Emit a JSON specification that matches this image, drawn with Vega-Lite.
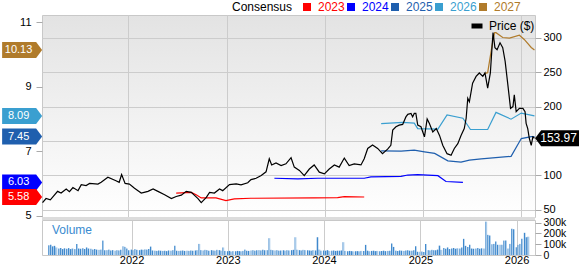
{
  "$schema": "https://vega.github.io/schema/vega-lite/v6.json",
  "padding": {"left": 1, "top": 0, "right": 0, "bottom": 0},
  "spacing": 0,
  "bounds": "flush",
  "config": {
    "font": "Liberation Sans",
    "axis": {"labelFont": "Liberation Sans", "labelFontSize": 11, "labelColor": "#000000", "tickColor": "#aaaaaa", "gridColor": "#cccccc", "domain": false},
    "legend": {"labelFont": "Liberation Sans", "titleFont": "Liberation Sans", "padding": 0}
  },
  "datasets": {
    "price": [
      {"d":"2021-02-16","p":60},{"d":"2021-03-01","p":66},{"d":"2021-03-17","p":64},{"d":"2021-04-13","p":76.5},{"d":"2021-04-26","p":74},
      {"d":"2021-05-15","p":80},{"d":"2021-05-27","p":76},{"d":"2021-06-09","p":82},{"d":"2021-06-28","p":77.5},{"d":"2021-07-10","p":86.3},
      {"d":"2021-07-28","p":85},{"d":"2021-08-10","p":88},{"d":"2021-09-10","p":87},{"d":"2021-09-22","p":89.7},{"d":"2021-10-17","p":97},
      {"d":"2021-11-16","p":92},{"d":"2021-11-28","p":89.7},{"d":"2021-12-07","p":101},{"d":"2021-12-20","p":88},{"d":"2022-01-05","p":87},
      {"d":"2022-01-24","p":81},{"d":"2022-02-06","p":77.5},{"d":"2022-02-18","p":74},{"d":"2022-03-15","p":76.5},{"d":"2022-04-03","p":80},
      {"d":"2022-04-21","p":76.5},{"d":"2022-05-16","p":71.6},{"d":"2022-06-10","p":66},{"d":"2022-06-28","p":69},{"d":"2022-07-17","p":71},
      {"d":"2022-08-04","p":76.5},{"d":"2022-08-23","p":75},{"d":"2022-09-17","p":66},{"d":"2022-09-29","p":60},{"d":"2022-10-18","p":67.6},
      {"d":"2022-10-30","p":75},{"d":"2022-11-17","p":74},{"d":"2022-12-06","p":80},{"d":"2022-12-18","p":77.5},{"d":"2023-01-12","p":86.3},
      {"d":"2023-02-06","p":87.3},{"d":"2023-02-24","p":86},{"d":"2023-03-21","p":89},{"d":"2023-04-02","p":93.6},{"d":"2023-04-21","p":95.6},
      {"d":"2023-05-10","p":99.5},{"d":"2023-05-28","p":105},{"d":"2023-06-09","p":124},{"d":"2023-06-18","p":115},{"d":"2023-07-04","p":118},
      {"d":"2023-07-23","p":114},{"d":"2023-08-10","p":116.6},{"d":"2023-08-29","p":125.5},{"d":"2023-09-10","p":111.8},{"d":"2023-09-29","p":107},
      {"d":"2023-10-17","p":99.5},{"d":"2023-11-05","p":109},{"d":"2023-11-23","p":115},{"d":"2023-12-12","p":104.4},{"d":"2023-12-31","p":102},
      {"d":"2024-01-18","p":109},{"d":"2024-02-06","p":115},{"d":"2024-02-24","p":111.8},{"d":"2024-03-14","p":125},{"d":"2024-04-01","p":114},
      {"d":"2024-04-20","p":116.6},{"d":"2024-05-15","p":115},{"d":"2024-05-27","p":124},{"d":"2024-06-09","p":139},{"d":"2024-06-27","p":144},
      {"d":"2024-07-16","p":139},{"d":"2024-08-03","p":131.4},{"d":"2024-08-22","p":138},{"d":"2024-09-03","p":143.6},{"d":"2024-09-10","p":165.7},
      {"d":"2024-09-22","p":170.6},{"d":"2024-10-04","p":173},{"d":"2024-10-17","p":174},{"d":"2024-10-29","p":185},{"d":"2024-11-05","p":188.7},
      {"d":"2024-11-17","p":190},{"d":"2024-11-23","p":185},{"d":"2024-11-29","p":190},{"d":"2024-12-05","p":190},{"d":"2024-12-12","p":173},
      {"d":"2024-12-24","p":170.6},{"d":"2025-01-06","p":156},{"d":"2025-01-16","p":182},{"d":"2025-01-24","p":175.6},{"d":"2025-02-06","p":163},
      {"d":"2025-02-19","p":168},{"d":"2025-03-03","p":158},{"d":"2025-03-15","p":143.6},{"d":"2025-03-31","p":131.4},{"d":"2025-04-15","p":129},
      {"d":"2025-04-27","p":139},{"d":"2025-05-10","p":146},{"d":"2025-05-22","p":158},{"d":"2025-06-03","p":168},{"d":"2025-06-10","p":183},
      {"d":"2025-06-16","p":212},{"d":"2025-06-22","p":207},{"d":"2025-07-04","p":234},{"d":"2025-07-17","p":244},{"d":"2025-07-29","p":249},
      {"d":"2025-08-11","p":244},{"d":"2025-08-19","p":249},{"d":"2025-08-29","p":227},{"d":"2025-09-08","p":249},{"d":"2025-09-15","p":291},
      {"d":"2025-09-18","p":308},{"d":"2025-09-25","p":286},{"d":"2025-10-03","p":283},{"d":"2025-10-14","p":293},{"d":"2025-10-24","p":286},
      {"d":"2025-11-02","p":266},{"d":"2025-11-12","p":232},{"d":"2025-11-22","p":197.5},{"d":"2025-12-01","p":200},{"d":"2025-12-06","p":217},
      {"d":"2025-12-13","p":192.6},{"d":"2025-12-25","p":197.5},{"d":"2026-01-07","p":197.5},{"d":"2026-01-15","p":192.6},{"d":"2026-01-19","p":175.6},
      {"d":"2026-01-25","p":168},{"d":"2026-01-31","p":153.5},{"d":"2026-02-07","p":143.6},{"d":"2026-02-13","p":156},{"d":"2026-02-19","p":153.97}
    ],
    "cons": [
      {"d":"2022-06-28","s":"2023","v":5.70},{"d":"2022-08-23","s":"2023","v":5.72},{"d":"2022-09-10","s":"2023","v":5.65},{"d":"2022-09-29","s":"2023","v":5.55},
      {"d":"2022-11-23","s":"2023","v":5.55},{"d":"2022-12-30","s":"2023","v":5.47},{"d":"2023-01-30","s":"2023","v":5.52},{"d":"2023-04-02","s":"2023","v":5.54},
      {"d":"2023-11-23","s":"2023","v":5.55},{"d":"2024-02-18","s":"2023","v":5.56},{"d":"2024-03-14","s":"2023","v":5.59},{"d":"2024-05-27","s":"2023","v":5.58},
      {"d":"2023-06-28","s":"2024","v":6.16},{"d":"2023-09-23","s":"2024","v":6.14},{"d":"2023-12-06","s":"2024","v":6.16},{"d":"2024-05-27","s":"2024","v":6.16},
      {"d":"2024-06-21","s":"2024","v":6.20},{"d":"2024-10-11","s":"2024","v":6.22},{"d":"2024-11-05","s":"2024","v":6.26},{"d":"2024-12-12","s":"2024","v":6.27},
      {"d":"2025-02-25","s":"2024","v":6.24},{"d":"2025-03-27","s":"2024","v":6.06},{"d":"2025-05-29","s":"2024","v":6.03},
      {"d":"2024-07-29","s":"2025","v":7.01},{"d":"2024-10-11","s":"2025","v":7.00},{"d":"2024-11-29","s":"2025","v":7.03},{"d":"2025-01-06","s":"2025","v":6.98},
      {"d":"2025-02-13","s":"2025","v":6.93},{"d":"2025-04-03","s":"2025","v":6.70},{"d":"2025-05-22","s":"2025","v":6.66},{"d":"2025-06-22","s":"2025","v":6.72},
      {"d":"2025-08-05","s":"2025","v":6.76},{"d":"2025-11-24","s":"2025","v":6.84},{"d":"2026-01-01","s":"2025","v":7.39},{"d":"2026-02-07","s":"2025","v":7.45},
      {"d":"2026-02-19","s":"2025","v":7.45},
      {"d":"2024-07-29","s":"2026","v":7.85},{"d":"2024-10-17","s":"2026","v":7.89},{"d":"2024-11-29","s":"2026","v":7.87},{"d":"2024-12-12","s":"2026","v":7.70},
      {"d":"2025-02-25","s":"2026","v":7.68},{"d":"2025-03-31","s":"2026","v":8.12},{"d":"2025-05-29","s":"2026","v":8.02},{"d":"2025-06-26","s":"2026","v":7.67},
      {"d":"2025-08-29","s":"2026","v":7.67},{"d":"2025-09-29","s":"2026","v":8.20},{"d":"2025-11-24","s":"2026","v":7.99},{"d":"2026-01-01","s":"2026","v":8.18},
      {"d":"2026-02-19","s":"2026","v":8.09},
      {"d":"2025-08-16","s":"2027","v":9.40},{"d":"2025-08-29","s":"2027","v":9.43},{"d":"2025-09-15","s":"2027","v":10.31},{"d":"2025-09-24","s":"2027","v":10.67},
      {"d":"2025-09-29","s":"2027","v":10.67},{"d":"2025-10-24","s":"2027","v":10.52},{"d":"2025-11-18","s":"2027","v":10.50},{"d":"2025-12-25","s":"2027","v":10.59},
      {"d":"2026-01-12","s":"2027","v":10.46},{"d":"2026-02-07","s":"2027","v":10.21},{"d":"2026-02-19","s":"2027","v":10.13}
    ],
    "tags": [
      {"s":"2027","v":10.13},{"s":"2026","v":8.09},{"s":"2025","v":7.45},{"s":"2024","v":6.03},{"s":"2023","v":5.58}
    ],
    "ptag": [{"p":153.97}],
    "vol": [
      {"d":"2021-02-22","v":90000},
      {"d":"2021-03-01","v":95000},{"d":"2021-03-08","v":80000},{"d":"2021-03-15","v":85000},{"d":"2021-03-22","v":70000},
      {"d":"2021-04-01","v":60000},{"d":"2021-04-08","v":65000},{"d":"2021-04-15","v":55000},{"d":"2021-04-22","v":62000},
      {"d":"2021-05-01","v":58000},{"d":"2021-05-08","v":64000},{"d":"2021-05-15","v":55000},{"d":"2021-05-22","v":60000},
      {"d":"2021-06-01","v":55000},{"d":"2021-06-08","v":103000},{"d":"2021-06-15","v":60000},{"d":"2021-06-22","v":58000},
      {"d":"2021-07-01","v":62000},{"d":"2021-07-08","v":55000},{"d":"2021-07-15","v":70000},{"d":"2021-07-22","v":60000},
      {"d":"2021-08-01","v":58000},{"d":"2021-08-08","v":50000},{"d":"2021-08-15","v":55000},{"d":"2021-08-22","v":50000},
      {"d":"2021-09-01","v":48000},{"d":"2021-09-08","v":50000},{"d":"2021-09-15","v":134000},{"d":"2021-09-22","v":45000},
      {"d":"2021-10-01","v":45000},{"d":"2021-10-08","v":50000},{"d":"2021-10-15","v":42000},{"d":"2021-10-22","v":45000},
      {"d":"2021-11-01","v":40000},{"d":"2021-11-08","v":45000},{"d":"2021-11-15","v":42000},{"d":"2021-11-22","v":48000},
      {"d":"2021-12-01","v":81000},{"d":"2021-12-08","v":75000},{"d":"2021-12-15","v":60000},{"d":"2021-12-22","v":45000},
      {"d":"2022-01-01","v":50000},{"d":"2022-01-08","v":45000},{"d":"2022-01-15","v":55000},{"d":"2022-01-22","v":48000},
      {"d":"2022-02-01","v":45000},{"d":"2022-02-08","v":50000},{"d":"2022-02-15","v":48000},{"d":"2022-02-22","v":52000},
      {"d":"2022-03-01","v":50000},{"d":"2022-03-08","v":55000},{"d":"2022-03-15","v":78000},{"d":"2022-03-22","v":42000},
      {"d":"2022-04-01","v":40000},{"d":"2022-04-08","v":38000},{"d":"2022-04-15","v":42000},{"d":"2022-04-22","v":40000},
      {"d":"2022-05-01","v":38000},{"d":"2022-05-08","v":40000},{"d":"2022-05-15","v":36000},{"d":"2022-05-22","v":42000},
      {"d":"2022-06-01","v":40000},{"d":"2022-06-08","v":45000},{"d":"2022-06-15","v":87000},{"d":"2022-06-22","v":40000},
      {"d":"2022-07-01","v":38000},{"d":"2022-07-08","v":40000},{"d":"2022-07-15","v":42000},{"d":"2022-07-22","v":38000},
      {"d":"2022-08-01","v":40000},{"d":"2022-08-08","v":38000},{"d":"2022-08-15","v":42000},{"d":"2022-08-22","v":40000},
      {"d":"2022-09-01","v":42000},{"d":"2022-09-08","v":45000},{"d":"2022-09-15","v":103000},{"d":"2022-09-22","v":45000},
      {"d":"2022-10-01","v":42000},{"d":"2022-10-08","v":48000},{"d":"2022-10-15","v":45000},{"d":"2022-10-22","v":40000},
      {"d":"2022-11-01","v":45000},{"d":"2022-11-08","v":42000},{"d":"2022-11-15","v":40000},{"d":"2022-11-22","v":48000},
      {"d":"2022-12-01","v":45000},{"d":"2022-12-08","v":40000},{"d":"2022-12-15","v":70000},{"d":"2022-12-22","v":38000},
      {"d":"2023-01-01","v":35000},{"d":"2023-01-08","v":38000},{"d":"2023-01-15","v":32000},{"d":"2023-01-22","v":36000},
      {"d":"2023-02-01","v":35000},{"d":"2023-02-08","v":38000},{"d":"2023-02-15","v":36000},{"d":"2023-02-22","v":34000},
      {"d":"2023-03-01","v":38000},{"d":"2023-03-08","v":50000},{"d":"2023-03-15","v":40000},{"d":"2023-03-22","v":38000},
      {"d":"2023-04-01","v":42000},{"d":"2023-04-08","v":45000},{"d":"2023-04-15","v":40000},{"d":"2023-04-22","v":44000},
      {"d":"2023-05-01","v":45000},{"d":"2023-05-08","v":42000},{"d":"2023-05-15","v":48000},{"d":"2023-05-22","v":45000},
      {"d":"2023-06-01","v":45000},{"d":"2023-06-08","v":156000},{"d":"2023-06-15","v":48000},{"d":"2023-06-22","v":44000},
      {"d":"2023-07-01","v":42000},{"d":"2023-07-08","v":45000},{"d":"2023-07-15","v":40000},{"d":"2023-07-22","v":42000},
      {"d":"2023-08-01","v":44000},{"d":"2023-08-08","v":40000},{"d":"2023-08-15","v":45000},{"d":"2023-08-22","v":42000},
      {"d":"2023-09-01","v":45000},{"d":"2023-09-08","v":48000},{"d":"2023-09-15","v":165000},{"d":"2023-09-22","v":48000},
      {"d":"2023-10-01","v":45000},{"d":"2023-10-08","v":42000},{"d":"2023-10-15","v":48000},{"d":"2023-10-22","v":45000},
      {"d":"2023-11-01","v":44000},{"d":"2023-11-08","v":42000},{"d":"2023-11-15","v":40000},{"d":"2023-11-22","v":45000},
      {"d":"2023-12-01","v":42000},{"d":"2023-12-08","v":165000},{"d":"2023-12-15","v":50000},{"d":"2023-12-22","v":40000},
      {"d":"2024-01-01","v":42000},{"d":"2024-01-08","v":40000},{"d":"2024-01-15","v":45000},{"d":"2024-01-22","v":38000},
      {"d":"2024-02-01","v":40000},{"d":"2024-02-08","v":42000},{"d":"2024-02-15","v":38000},{"d":"2024-02-22","v":40000},
      {"d":"2024-03-01","v":40000},{"d":"2024-03-08","v":42000},{"d":"2024-03-15","v":119000},{"d":"2024-03-22","v":38000},
      {"d":"2024-04-01","v":35000},{"d":"2024-04-08","v":38000},{"d":"2024-04-15","v":36000},{"d":"2024-04-22","v":34000},
      {"d":"2024-05-01","v":35000},{"d":"2024-05-08","v":36000},{"d":"2024-05-15","v":34000},{"d":"2024-05-22","v":38000},
      {"d":"2024-06-01","v":36000},{"d":"2024-06-08","v":94000},{"d":"2024-06-15","v":40000},{"d":"2024-06-22","v":35000},
      {"d":"2024-07-01","v":38000},{"d":"2024-07-08","v":40000},{"d":"2024-07-15","v":36000},{"d":"2024-07-22","v":38000},
      {"d":"2024-08-01","v":35000},{"d":"2024-08-08","v":38000},{"d":"2024-08-15","v":40000},{"d":"2024-08-22","v":36000},
      {"d":"2024-09-01","v":38000},{"d":"2024-09-08","v":40000},{"d":"2024-09-15","v":106000},{"d":"2024-09-22","v":75000},
      {"d":"2024-10-01","v":40000},{"d":"2024-10-08","v":38000},{"d":"2024-10-15","v":42000},{"d":"2024-10-22","v":40000},
      {"d":"2024-11-01","v":38000},{"d":"2024-11-08","v":42000},{"d":"2024-11-15","v":45000},{"d":"2024-11-22","v":40000},
      {"d":"2024-12-01","v":40000},{"d":"2024-12-08","v":45000},{"d":"2024-12-15","v":81000},{"d":"2024-12-22","v":30000},
      {"d":"2025-01-01","v":30000},{"d":"2025-01-08","v":32000},{"d":"2025-01-15","v":28000},{"d":"2025-01-22","v":103000},
      {"d":"2025-02-01","v":45000},{"d":"2025-02-08","v":42000},{"d":"2025-02-15","v":48000},{"d":"2025-02-22","v":45000},
      {"d":"2025-03-01","v":45000},{"d":"2025-03-08","v":50000},{"d":"2025-03-15","v":87000},{"d":"2025-03-22","v":48000},
      {"d":"2025-04-01","v":65000},{"d":"2025-04-08","v":58000},{"d":"2025-04-15","v":70000},{"d":"2025-04-22","v":55000},
      {"d":"2025-05-01","v":60000},{"d":"2025-05-08","v":65000},{"d":"2025-05-15","v":58000},{"d":"2025-05-22","v":62000},
      {"d":"2025-06-01","v":60000},{"d":"2025-06-08","v":70000},{"d":"2025-06-15","v":150000},{"d":"2025-06-22","v":85000},
      {"d":"2025-07-01","v":75000},{"d":"2025-07-08","v":95000},{"d":"2025-07-15","v":60000},{"d":"2025-07-22","v":58000},
      {"d":"2025-08-01","v":60000},{"d":"2025-08-08","v":65000},{"d":"2025-08-15","v":58000},{"d":"2025-08-22","v":62000},
      {"d":"2025-09-01","v":60000},{"d":"2025-09-08","v":310000},{"d":"2025-09-15","v":187000},{"d":"2025-09-22","v":181000},
      {"d":"2025-10-01","v":100000},{"d":"2025-10-08","v":103000},{"d":"2025-10-15","v":125000},{"d":"2025-10-22","v":95000},
      {"d":"2025-11-01","v":95000},{"d":"2025-11-08","v":95000},{"d":"2025-11-15","v":134000},{"d":"2025-11-22","v":134000},
      {"d":"2025-12-01","v":60000},{"d":"2025-12-08","v":103000},{"d":"2025-12-15","v":244000},{"d":"2025-12-22","v":238000},
      {"d":"2026-01-01","v":72000},{"d":"2026-01-08","v":94000},{"d":"2026-01-15","v":103000},{"d":"2026-01-22","v":150000},
      {"d":"2026-02-01","v":206000},{"d":"2026-02-08","v":165000},{"d":"2026-02-15","v":170000}
    ]
  },
  "vconcat": [
    {
      "width": 493,
      "height": 202,
      "view": {
        "fill": {"gradient": "linear", "x1": 0, "y1": 0, "x2": 0, "y2": 1, "stops": [{"offset": 0, "color": "#e3e3e3"}, {"offset": 1, "color": "#ffffff"}]},
        "stroke": "#c8c8c8"
      },
      "layer": [
        {
          "layer": [
            {
              "data": {"name": "cons"},
              "mark": {"type": "line", "strokeWidth": 1.2},
              "encoding": {
                "x": {"field": "d", "type": "temporal",
                      "scale": {"domain": [{"year": 2021, "month": 2, "date": 14}, {"year": 2026, "month": 2, "date": 21}]},
                      "axis": {"title": null, "labels": false, "ticks": false, "domain": false, "grid": true, "tickCount": "year"}},
                "y": {"field": "v", "type": "quantitative",
                      "scale": {"domain": [4.96, 11.217], "nice": false, "zero": false},
                      "axis": {"orient": "left", "title": null, "values": [5, 7, 9, 11], "grid": false, "tickSize": 6, "labelPadding": 5}},
                "color": {"field": "s", "type": "nominal",
                          "scale": {"domain": ["2023", "2024", "2025", "2026", "2027"], "range": ["#ff0000", "#0000ff", "#1f5fae", "#3a9fd0", "#b07b2b"]},
                          "legend": {"orient": "none", "legendX": 190, "legendY": -14, "direction": "horizontal",
                                     "title": "Consensus", "titleOrient": "left", "titleFontSize": 12, "titleFontWeight": "normal", "titleColor": "#000000", "titlePadding": 8,
                                     "labelFontSize": 12, "symbolType": "square", "symbolSize": 64, "symbolStrokeWidth": 0, "labelOffset": 5, "columnPadding": -1,
                                     "labelColor": {"expr": "datum.label == '2023' ? '#ff0000' : datum.label == '2024' ? '#0000ff' : datum.label == '2025' ? '#1f5fae' : datum.label == '2026' ? '#3a9fd0' : '#b07b2b'"},
                                     "encode": {"symbols": {"update": {
                                       "fill": {"signal": "datum.label == '2023' ? '#ff0000' : datum.label == '2024' ? '#0000ff' : datum.label == '2025' ? '#1f5fae' : datum.label == '2026' ? '#3a9fd0' : '#b07b2b'"},
                                       "strokeWidth": {"value": 0}, "opacity": {"value": 1}}}}}}
              }
            },
            {
              "data": {"name": "tags"},
              "mark": {"type": "point", "shape": "M-1,-0.4L0.7,-0.4L1,0L0.7,0.4L-1,0.4Z", "size": 1600, "filled": true, "opacity": 1, "strokeWidth": 0},
              "encoding": {
                "x": {"datum": {"year": 2020, "month": 12, "date": 2}, "type": "temporal"},
                "y": {"field": "v", "type": "quantitative"},
                "fill": {"field": "s", "type": "nominal",
                         "scale": {"domain": ["2023", "2024", "2025", "2026", "2027"], "range": ["#ff0000", "#0000ff", "#1f5fae", "#3a9fd0", "#b07b2b"]},
                         "legend": null}
              }
            },
            {
              "data": {"name": "tags"},
              "mark": {"type": "text", "color": "#ffffff", "fontSize": 11, "dx": -3.5, "align": "center", "baseline": "middle"},
              "encoding": {
                "x": {"datum": {"year": 2020, "month": 12, "date": 2}, "type": "temporal"},
                "y": {"field": "v", "type": "quantitative"},
                "text": {"field": "v", "type": "quantitative", "format": ".2f"}
              }
            }
          ]
        },
        {
          "layer": [
            {
              "data": {"name": "price"},
              "mark": {"type": "line", "strokeWidth": 1.2},
              "encoding": {
                "x": {"field": "d", "type": "temporal"},
                "y": {"field": "p", "type": "quantitative",
                      "scale": {"domain": [39.1, 333.5], "nice": false, "zero": false},
                      "axis": {"orient": "right", "title": null, "values": [50, 100, 150, 200, 250, 300], "labelExpr": "datum.value == 150 ? '' : datum.label", "grid": true, "tickSize": 6, "labelPadding": 2}},
                "color": {"datum": "Price ($)", "type": "nominal", "scale": {"range": ["#000000"]},
                          "legend": {"orient": "none", "legendX": 427, "legendY": 3, "title": null, "symbolType": "stroke", "symbolSize": 121, "symbolStrokeWidth": 5, "labelFontSize": 12, "labelOffset": 4, "labelColor": "#000000"}}
              }
            },
            {
              "data": {"name": "ptag"},
              "mark": {"type": "point", "shape": "M-1,0L-0.73,-0.356L1,-0.356L1,0.356L-0.73,0.356Z", "size": 2025, "filled": true, "opacity": 1, "color": "#000000", "strokeWidth": 0},
              "encoding": {
                "x": {"datum": {"year": 2026, "month": 5, "date": 16}, "type": "temporal"},
                "y": {"field": "p", "type": "quantitative"}
              }
            },
            {
              "data": {"name": "ptag"},
              "mark": {"type": "text", "color": "#ffffff", "fontSize": 12, "dx": 1, "align": "center", "baseline": "middle"},
              "encoding": {
                "x": {"datum": {"year": 2026, "month": 5, "date": 16}, "type": "temporal"},
                "y": {"field": "p", "type": "quantitative"},
                "text": {"field": "p", "type": "quantitative", "format": ".2f"}
              }
            }
          ]
        }
      ],
      "resolve": {"scale": {"y": "independent", "color": "independent"}}
    },
    {
      "width": 493,
      "height": 3,
      "view": {"fill": "#dcdcdc", "stroke": null},
      "data": {"values": [{}]},
      "mark": {"type": "text", "text": ""},
      "encoding": {}
    },
    {
      "width": 493,
      "height": 35,
      "view": {"stroke": "#c8c8c8", "fill": "#ffffff"},
      "title": {"text": "Volume", "anchor": "start", "orient": "top", "offset": -19, "dx": 10, "fontSize": 12, "fontWeight": "normal", "color": "#3a8bd0", "font": "Liberation Sans"},
      "data": {"name": "vol"},
      "mark": {"type": "bar", "width": 1.8,
               "fill": {"gradient": "linear", "x1": 0, "y1": 0, "x2": 1, "y2": 0,
                        "stops": [{"offset": 0, "color": "#3f88cc"}, {"offset": 0.45, "color": "#3f88cc"}, {"offset": 0.5, "color": "#a9cbea"}, {"offset": 1, "color": "#a9cbea"}]}},
      "encoding": {
        "x": {"field": "d", "type": "temporal",
              "scale": {"domain": [{"year": 2021, "month": 2, "date": 14}, {"year": 2026, "month": 2, "date": 21}]},
              "axis": {"title": null, "format": "%Y", "tickCount": "year", "grid": true, "ticks": false, "tickSize": 0, "labelPadding": -1, "labelFlush": false}},
        "y": {"field": "v", "type": "quantitative",
              "scale": {"domain": [0, 325000], "nice": false},
              "axis": {"orient": "right", "title": null, "values": [0, 100000, 200000, 300000], "labelExpr": "datum.value == 0 ? '0' : format(datum.value / 1000, 'd') + 'k'", "labelOverlap": false, "labelSeparation": 0, "labelFontSize": 10.5, "labelBaseline": "middle", "labelFlush": false, "grid": false, "tickSize": 6, "labelPadding": 2}}
      }
    }
  ]
}
